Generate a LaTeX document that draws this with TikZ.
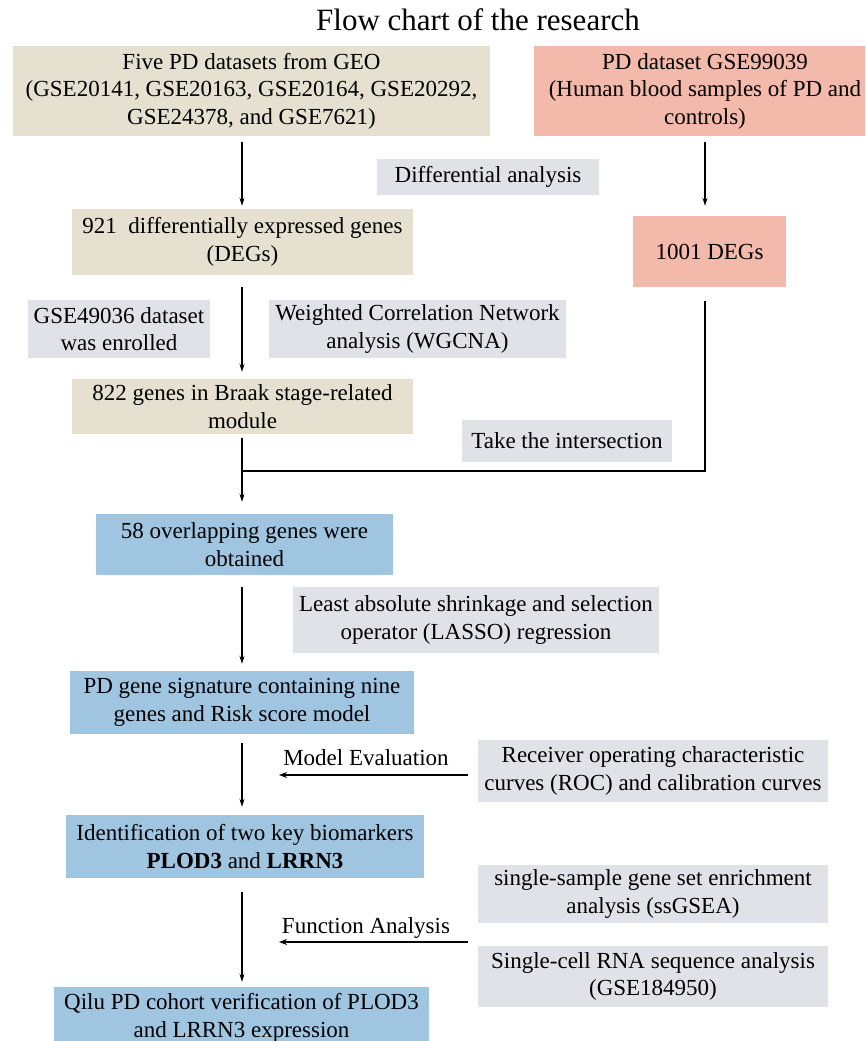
\documentclass[tikz,border=0pt]{standalone}
\usepackage{fontspec}
\setmainfont{Liberation Serif}
\usetikzlibrary{arrows.meta,calc}
\definecolor{beige}{RGB}{229,224,207}
\definecolor{salmon}{RGB}{243,185,170}
\definecolor{bluebox}{RGB}{159,197,225}
\definecolor{graybox}{RGB}{225,226,232}
\tikzset{
  box/.style={inner sep=0pt, align=center, font=\fontsize{23}{27.5}\selectfont},
  beigebox/.style={box, fill=beige},
  salmonbox/.style={box, fill=salmon},
  bluebx/.style={box, fill=bluebox},
  graybx/.style={box, fill=graybox},
  lbl/.style={inner sep=0pt, font=\fontsize{23}{27.5}\selectfont},
  arr/.style={line width=1.3pt, -{Stealth[length=8pt,width=5pt]}},
  conn/.style={line width=2pt},
  harr/.style={line width=2pt, -{Stealth[length=8pt,width=6pt]}},
}
\begin{document}
\begin{tikzpicture}[x=1pt,y=-1pt]
\clip (0,0) rectangle (865,1041);
\fill[white] (0,0) rectangle (865,1041);
\node[font=\fontsize{31}{36}\selectfont, anchor=base, inner sep=0pt] (title) at (478,31) {Flow chart of the research};

\node[beigebox, minimum width=477pt, minimum height=90pt] (A) at (251.5,91)
  {Five PD datasets from GEO\\(GSE20141, GSE20163, GSE20164, GSE20292,\\GSE24378, and GSE7621)};
\node[salmonbox, minimum width=342pt, minimum height=90pt] (B) at (705,91)
  {PD dataset GSE99039\\(Human blood samples of PD and\\controls)};
\node[graybx, minimum width=222pt, minimum height=36pt] (diff) at (488,177) {Differential analysis};
\node[beigebox, minimum width=341pt, minimum height=66pt] (C) at (242.5,242)
  {921\ \ differentially expressed genes\\(DEGs)};
\node[salmonbox, minimum width=153pt, minimum height=71pt] (D) at (709.5,251.5) {1001 DEGs};
\node[graybx, minimum width=182pt, minimum height=58pt] (g49) at (119,329) {GSE49036 dataset\\was enrolled};
\node[graybx, minimum width=297pt, minimum height=58pt] (wg) at (417.5,329) {Weighted Correlation Network\\analysis (WGCNA)};
\node[beigebox, minimum width=341pt, minimum height=55pt] (E) at (242.5,406.5) {822 genes in Braak stage-related\\module};
\node[graybx, minimum width=210pt, minimum height=42pt] (inter) at (567,441) {Take the intersection};
\node[bluebx, minimum width=297pt, minimum height=61pt] (F) at (244.5,544.5) {58 overlapping genes were\\obtained};
\node[graybx, minimum width=366pt, minimum height=66pt] (lasso) at (476,620) {Least absolute shrinkage and selection\\operator (LASSO) regression};
\node[bluebx, minimum width=344pt, minimum height=63pt] (G) at (242,702.5) {PD gene signature containing nine\\genes and Risk score model};
\node[lbl, anchor=base] (me) at (366,765) {Model Evaluation};
\node[graybx, minimum width=350pt, minimum height=62pt] (roc) at (653,771) {Receiver operating characteristic\\curves (ROC) and calibration curves};
\node[bluebx, minimum width=358pt, minimum height=63pt] (H) at (245,846.5) {Identification of two key biomarkers\\\textbf{PLOD3} and \textbf{LRRN3}};
\node[graybx, minimum width=350pt, minimum height=58pt] (ss) at (653,894) {single-sample gene set enrichment\\analysis (ssGSEA)};
\node[lbl, anchor=base] (fa) at (366,933) {Function Analysis};
\node[graybx, minimum width=350pt, minimum height=61pt] (sc) at (653,976.5) {Single-cell RNA sequence analysis\\(GSE184950)};
\node[bluebx, minimum width=375pt, minimum height=62pt] (I) at (241.5,1018) {Qilu PD cohort verification of PLOD3\\and LRRN3 expression};

\coordinate (J) at (242,471);
\coordinate (meEnd) at (279,775);
\coordinate (faEnd) at (279,942);

\draw[arr, shorten <=6pt, shorten >=3pt] (A.south -| J) -- (C.north -| J);
\draw[arr, shorten <=6pt, shorten >=10pt] (B.south) -- (B.south |- D.north);
\draw[arr, shorten <=12pt, shorten >=7pt] (C.south -| J) -- (E.north -| J);
\draw[conn] ($(D.south -| B.south)+(0,14)$) |- (J);
\draw[arr, shorten <=4pt, shorten >=12pt] (E.south -| J) -- (F.north -| J);
\draw[arr, shorten <=12pt, shorten >=7pt] (F.south -| J) -- (G.north -| J);
\draw[arr, shorten <=9pt, shorten >=8pt] (G.south -| J) -- (H.north -| J);
\draw[arr, shorten <=14pt, shorten >=5pt] (H.south -| J) -- (I.north -| J);
\draw[harr] ($(roc.west |- meEnd)+(-10,0)$) -- (meEnd);
\draw[harr] ($(ss.west |- faEnd)+(-10,0)$) -- (faEnd);
\end{tikzpicture}
\end{document}
